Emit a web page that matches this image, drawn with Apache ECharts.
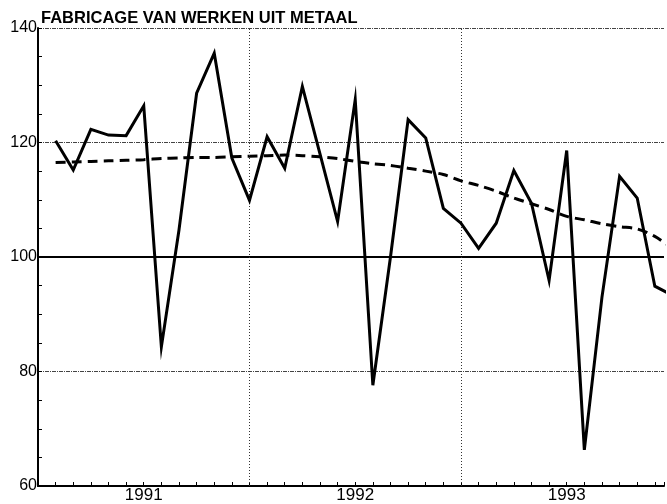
<!DOCTYPE html>
<html>
<head>
<meta charset="utf-8">
<script src="https://cdn.jsdelivr.net/npm/echarts@6/dist/echarts.min.js"></script>
<style>
html,body{margin:0;padding:0;background:#fff;}
#chart{width:667px;height:504px;}
</style>
</head>
<body>
<div id="chart"></div>
<script>
// Chart data (monthly index, starting January 1991)
const chartTitle = 'FABRICAGE VAN WERKEN UIT METAAL';
const yearLabels = ['1991', '1992', '1993'];
const yTickLabels = [60, 80, 100, 120, 140];
const yearBoundaries = [12, 24];
const indexValues = [
  120.3, 115.2, 122.3, 121.3, 121.2, 126.4, 84.3, 104.7, 128.6, 135.6, 117.3, 109.9,
  121.0, 115.5, 129.8, 118.0, 106.2, 127.5, 77.6, 100.0, 124.0, 120.8, 108.5, 105.9,
  101.5, 105.9, 115.1, 109.4, 95.9, 118.6, 66.3, 93.0, 114.1, 110.3, 94.9, 93.3
];
const trendValues = [
  116.5, 116.6, 116.7, 116.8, 116.9, 117.0, 117.2, 117.3, 117.4, 117.4, 117.5, 117.6,
  117.7, 117.8, 117.7, 117.5, 117.2, 116.7, 116.3, 116.0, 115.5, 115.0, 114.4, 113.3,
  112.5, 111.5, 110.3, 109.3, 108.3, 107.1, 106.5, 105.8, 105.3, 104.9, 103.6, 101.5
];
const baseLine = 100;

const FONT = '"Liberation Sans", Arial, Helvetica, sans-serif';
const xMax = 35.52;

const chart = echarts.init(document.getElementById('chart'), null, {renderer: 'canvas'});
chart.setOption({
  animation: false,
  backgroundColor: '#fff',
  title: {
    text: chartTitle,
    left: 41, top: 10, padding: 0,
    textStyle: {fontFamily: FONT, fontSize: 16.5, fontWeight: 'bold', color: '#000'}
  },
  grid: {left: 38, right: 0, top: 28, bottom: 18, containLabel: false},
  xAxis: [{
    type: 'value', min: 0, max: xMax, interval: 1,
    axisLine: {show: true, lineStyle: {color: '#000', width: 2}},
    axisTick: {show: true, inside: true, length: 4, lineStyle: {color: '#000', width: 1}},
    axisLabel: {
      show: true, margin: 1, fontFamily: FONT, fontSize: 17, color: '#000',
      formatter: function (v) {
        if (v % 12 === 6) { return yearLabels[(v - 6) / 12] || ''; }
        return '';
      }
    },
    splitLine: {show: false}
  }],
  yAxis: [{
    type: 'value', min: 60, max: 140, interval: 5,
    axisLine: {show: true, lineStyle: {color: '#000', width: 2}},
    axisTick: {show: true, inside: true, length: 4, lineStyle: {color: '#000', width: 1}},
    axisLabel: {
      show: true, margin: 1, fontFamily: FONT, fontSize: 16, color: '#000',
      formatter: function (v) { return yTickLabels.indexOf(v) >= 0 ? String(v) : ''; }
    },
    splitLine: {show: false}
  }, {
    type: 'value', min: 60, max: 140, interval: 20, position: 'left',
    axisLine: {show: false}, axisTick: {show: false}, axisLabel: {show: false},
    splitLine: {show: true, lineStyle: {color: '#444', width: 1, type: [4, 1, 1, 1]}}
  }],
  series: [{
    type: 'line', name: 'index',
    xAxisIndex: 0, yAxisIndex: 0,
    data: indexValues.map((v, i) => [i + 1, v]),
    symbol: 'none', clip: true,
    lineStyle: {color: '#000', width: 3, join: 'miter'},
    markLine: {
      silent: true, symbol: 'none', label: {show: false},
      lineStyle: {color: '#000', width: 2, type: 'solid'},
      data: [{yAxis: baseLine}]
    },
    z: 5
  }, {
    type: 'line', name: 'trend',
    xAxisIndex: 0, yAxisIndex: 0,
    data: trendValues.map((v, i) => [i + 1, v]),
    symbol: 'none', clip: true, smooth: 0.3,
    lineStyle: {color: '#000', width: 3, type: [10, 6]},
    markLine: {
      silent: true, symbol: 'none', label: {show: false},
      lineStyle: {color: '#333', width: 1, type: [1, 2]},
      data: yearBoundaries.map(b => ({xAxis: b}))
    },
    z: 4
  }]
});
</script>
</body>
</html>
